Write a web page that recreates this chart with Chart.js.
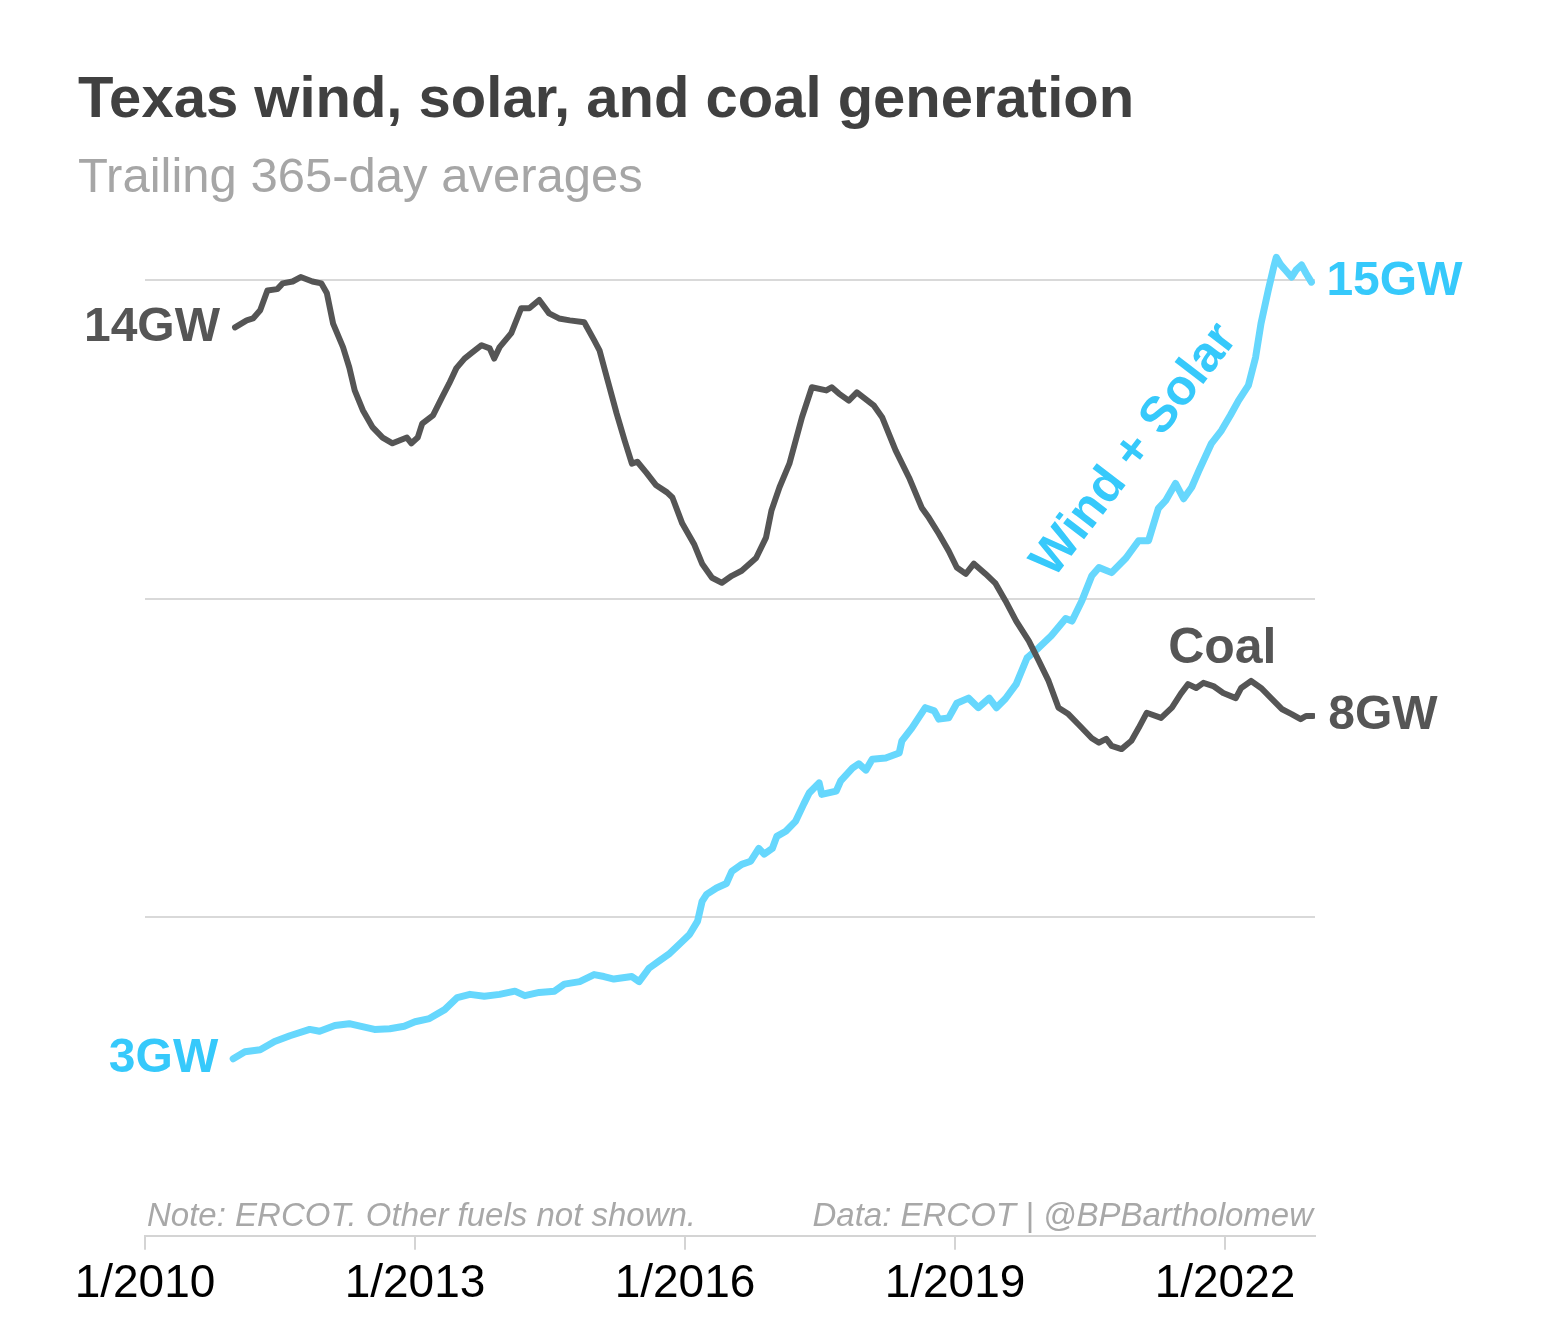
<!DOCTYPE html>
<html>
<head>
<meta charset="utf-8">
<title>Texas wind, solar, and coal generation</title>
<script src="https://cdn.jsdelivr.net/npm/chart.js@4.4.1/dist/chart.umd.min.js"></script>
<style>
  html, body { margin: 0; padding: 0; background: #fff; }
  #wrap { width: 1557px; height: 1332px; }
</style>
</head>
<body>
<div id="wrap"><canvas id="genChart" width="1557" height="1332"></canvas></div>
<script>
// ---------------------------------------------------------------
// Dados (médias móveis de 365 dias, GW)
// ---------------------------------------------------------------
const coalYears = [
  2011.00, 2011.13, 2011.20, 2011.28, 2011.36, 2011.47, 2011.53, 2011.64, 2011.73, 2011.86,
  2011.96, 2012.02, 2012.09, 2012.20, 2012.27, 2012.33, 2012.42, 2012.53, 2012.64, 2012.75,
  2012.91, 2012.96, 2013.03, 2013.08, 2013.20, 2013.30, 2013.38, 2013.46, 2013.55, 2013.64,
  2013.74, 2013.83, 2013.88, 2013.94, 2014.07, 2014.18, 2014.27, 2014.38, 2014.49, 2014.60,
  2014.72, 2014.88, 2014.99, 2015.05, 2015.14, 2015.24, 2015.33, 2015.41, 2015.47, 2015.57,
  2015.68, 2015.80, 2015.86, 2015.97, 2016.10, 2016.19, 2016.30, 2016.41, 2016.52, 2016.63,
  2016.79, 2016.90, 2016.96, 2017.05, 2017.16, 2017.30, 2017.41, 2017.57, 2017.63, 2017.71,
  2017.82, 2017.91, 2018.10, 2018.19, 2018.34, 2018.49, 2018.63, 2018.71, 2018.82, 2018.93,
  2019.02, 2019.12, 2019.21, 2019.34, 2019.45, 2019.56, 2019.68, 2019.82, 2019.93, 2020.04,
  2020.15, 2020.26, 2020.37, 2020.52, 2020.60, 2020.68, 2020.74, 2020.85, 2020.96, 2021.04,
  2021.13, 2021.29, 2021.41, 2021.51, 2021.59, 2021.68, 2021.76, 2021.87, 2021.98, 2022.12,
  2022.18, 2022.29, 2022.40, 2022.52, 2022.63, 2022.74, 2022.84, 2022.90, 2022.98
];
const coalGW = [
  14.26, 14.37, 14.40, 14.53, 14.84, 14.86, 14.95, 14.98, 15.05, 14.98,
  14.95, 14.80, 14.32, 13.95, 13.63, 13.27, 12.96, 12.69, 12.53, 12.44,
  12.53, 12.44, 12.53, 12.75, 12.88, 13.16, 13.38, 13.62, 13.77, 13.87,
  13.98, 13.93, 13.77, 13.95, 14.17, 14.56, 14.56, 14.69, 14.48, 14.40,
  14.37, 14.34, 14.06, 13.90, 13.43, 12.91, 12.48, 12.12, 12.15, 11.98,
  11.78, 11.67, 11.59, 11.18, 10.86, 10.55, 10.33, 10.25, 10.36, 10.44,
  10.64, 10.96, 11.38, 11.75, 12.12, 12.85, 13.32, 13.27, 13.32, 13.22,
  13.11, 13.24, 13.03, 12.85, 12.33, 11.90, 11.43, 11.27, 11.02, 10.75,
  10.49, 10.39, 10.55, 10.39, 10.24, 9.97, 9.65, 9.34, 9.03, 8.71,
  8.29, 8.19, 8.03, 7.81, 7.74, 7.80, 7.69, 7.64, 7.77, 7.97,
  8.21, 8.13, 8.29, 8.51, 8.66, 8.60, 8.68, 8.63, 8.52, 8.44,
  8.60, 8.71, 8.60, 8.43, 8.27, 8.19, 8.11, 8.16, 8.16
];

const windSolarYears = [
  2010.98, 2011.11, 2011.28, 2011.44, 2011.61, 2011.83, 2011.94, 2012.11, 2012.27, 2012.39,
  2012.55, 2012.72, 2012.88, 2013.00, 2013.16, 2013.33, 2013.47, 2013.61, 2013.77, 2013.94,
  2014.11, 2014.22, 2014.38, 2014.55, 2014.66, 2014.83, 2014.99, 2015.10, 2015.21, 2015.41,
  2015.49, 2015.60, 2015.71, 2015.82, 2015.94, 2016.05, 2016.14, 2016.19, 2016.24, 2016.35,
  2016.46, 2016.52, 2016.63, 2016.73, 2016.82, 2016.88, 2016.97, 2017.02, 2017.12, 2017.23,
  2017.32, 2017.38, 2017.49, 2017.52, 2017.68, 2017.73, 2017.86, 2017.93, 2018.01, 2018.08,
  2018.23, 2018.38, 2018.41, 2018.52, 2018.67, 2018.77, 2018.82, 2018.93, 2019.02, 2019.15,
  2019.26, 2019.38, 2019.46, 2019.56, 2019.68, 2019.80, 2019.93, 2020.07, 2020.23, 2020.30,
  2020.41, 2020.52, 2020.60, 2020.74, 2020.90, 2021.04, 2021.15, 2021.26, 2021.34, 2021.45,
  2021.54, 2021.63, 2021.71, 2021.85, 2021.96, 2022.06, 2022.15, 2022.26, 2022.34, 2022.40,
  2022.48, 2022.54, 2022.57, 2022.62, 2022.67, 2022.74, 2022.79, 2022.85, 2022.90, 2022.96
];
const windSolarGW = [
  2.78, 2.89, 2.92, 3.05, 3.14, 3.24, 3.21, 3.30, 3.33, 3.29,
  3.24, 3.25, 3.29, 3.36, 3.41, 3.55, 3.74, 3.79, 3.76, 3.79,
  3.84, 3.77, 3.82, 3.84, 3.95, 3.99, 4.10, 4.07, 4.03, 4.07,
  3.99, 4.20, 4.31, 4.42, 4.58, 4.73, 4.94, 5.25, 5.36, 5.46,
  5.53, 5.72, 5.83, 5.88, 6.08, 5.99, 6.08, 6.27, 6.35, 6.51,
  6.78, 6.95, 7.11, 6.93, 6.98, 7.14, 7.34, 7.41, 7.31, 7.48,
  7.50, 7.58, 7.77, 7.97, 8.29, 8.24, 8.11, 8.13, 8.36, 8.44,
  8.29, 8.44, 8.29, 8.43, 8.66, 9.07, 9.23, 9.42, 9.69, 9.65,
  9.97, 10.36, 10.49, 10.41, 10.64, 10.91, 10.91, 11.42, 11.54, 11.81,
  11.57, 11.75, 12.01, 12.44, 12.64, 12.88, 13.11, 13.35, 13.79, 14.32,
  14.84, 15.20, 15.36, 15.24, 15.16, 15.05, 15.16, 15.24, 15.11, 14.97
];

const xTickYears = [2010, 2013, 2016, 2019, 2022];
const gridGW = [0, 5, 10, 15];

const titleText = "Texas wind, solar, and coal generation";
const subtitleText = "Trailing 365-day averages";
const noteLeft = "Note: ERCOT. Other fuels not shown.";
const noteRight = "Data: ERCOT | @BPBartholomew";

// rótulos das séries: [texto, ano, GW, ângulo]
const coalLabel = ["Coal", 2021.97, 9.2, 0];
const windLabel = ["Wind + Solar", 2021.00, 12.33, -52.5];

const COAL = "#555555";
const WIND_LINE = "#66d7fd";
const WIND_TEXT = "#36c9fb";
const FONT = "'Liberation Sans', Arial, Helvetica, sans-serif";

const toPoints = (xs, ys) => xs.map((x, i) => ({ x: x, y: ys[i] }));


// ---------------------------------------------------------------
// Plugin: títulos, notas e rótulos diretos
// ---------------------------------------------------------------
const textPlugin = {
  id: "textPlugin",
  afterDatasetsDraw(chart) {
    const ctx = chart.ctx;
    const xs = chart.scales.x;
    const ys = chart.scales.y;
    const area = chart.chartArea;

    ctx.save();
    ctx.textBaseline = "alphabetic";

    // título e subtítulo
    ctx.textAlign = "left";
    ctx.fillStyle = "#404040";
    ctx.font = "bold 58px " + FONT;
    ctx.fillText(titleText, 78, 117);
    ctx.fillStyle = "#a6a6a6";
    ctx.font = "49px " + FONT;
    ctx.fillText(subtitleText, 78, 192);

    // notas de rodapé
    ctx.font = "italic 33px " + FONT;
    ctx.fillStyle = "#a8a8a8";
    ctx.fillText(noteLeft, area.left + 2, area.bottom - 10);
    ctx.textAlign = "right";
    ctx.fillText(noteRight, area.right - 2, area.bottom - 10);

    // valores no início e no fim das linhas
    ctx.textBaseline = "middle";
    ctx.font = "bold 48px " + FONT;
    const ends = [
      [coalYears, coalGW, COAL],
      [windSolarYears, windSolarGW, WIND_TEXT]
    ];
    ends.forEach(([xv, yv, color]) => {
      const n = xv.length - 1;
      ctx.fillStyle = color;
      ctx.textAlign = "right";
      ctx.fillText(Math.round(yv[0]) + "GW", xs.getPixelForValue(xv[0]) - 15, ys.getPixelForValue(yv[0]));
      ctx.textAlign = "left";
      ctx.fillText(Math.round(yv[n]) + "GW", xs.getPixelForValue(xv[n]) + 15, ys.getPixelForValue(yv[n]));
    });

    // nomes das séries
    ctx.font = "bold 50px " + FONT;
    [[coalLabel, COAL], [windLabel, WIND_TEXT]].forEach(([lab, color]) => {
      ctx.save();
      ctx.translate(xs.getPixelForValue(lab[1]), ys.getPixelForValue(lab[2]));
      ctx.rotate(lab[3] * Math.PI / 180);
      ctx.textAlign = "center";
      ctx.fillStyle = color;
      ctx.fillText(lab[0], 0, 0);
      ctx.restore();
    });

    ctx.restore();
  }
};


// ---------------------------------------------------------------
// Gráfico
// ---------------------------------------------------------------
const genChart = new Chart(document.getElementById("genChart"), {
  type: "line",
  data: {
    datasets: [
      {
        label: "Coal",
        data: toPoints(coalYears, coalGW),
        borderColor: COAL,
        borderWidth: 6,
        pointRadius: 0,
        tension: 0,
        borderJoinStyle: "round",
        borderCapStyle: "round"
      },
      {
        label: "Wind + Solar",
        data: toPoints(windSolarYears, windSolarGW),
        borderColor: WIND_LINE,
        borderWidth: 7,
        pointRadius: 0,
        tension: 0,
        borderJoinStyle: "round",
        borderCapStyle: "round"
      }
    ]
  },
  options: {
    responsive: false,
    animation: false,
    devicePixelRatio: 1,
    layout: { padding: { left: 145, right: 242, top: 242, bottom: 13 } },
    plugins: {
      legend: { display: false },
      tooltip: { enabled: false }
    },
    scales: {
      x: {
        type: "linear",
        min: 2010,
        max: 2023,
        afterBuildTicks: (scale) => { scale.ticks = xTickYears.map(v => ({ value: v })); },
        ticks: {
          callback: (v) => "1/" + v,
          color: "#000",
          font: { family: FONT, size: 46 },
          padding: 7,
          maxRotation: 0,
          autoSkip: false
        },
        grid: { drawOnChartArea: false, drawTicks: true, tickLength: 14, color: "#d4d4d4", lineWidth: 2 },
        border: { display: true, color: "#d4d4d4", width: 2 }
      },
      y: {
        min: 0,
        max: 15.6,
        afterBuildTicks: (scale) => { scale.ticks = gridGW.map(v => ({ value: v })); },
        ticks: { display: false },
        grid: { color: "#d9d9d9", lineWidth: 2, drawTicks: false },
        border: { display: false }
      }
    }
  },
  plugins: [textPlugin]
});
</script>
</body>
</html>
